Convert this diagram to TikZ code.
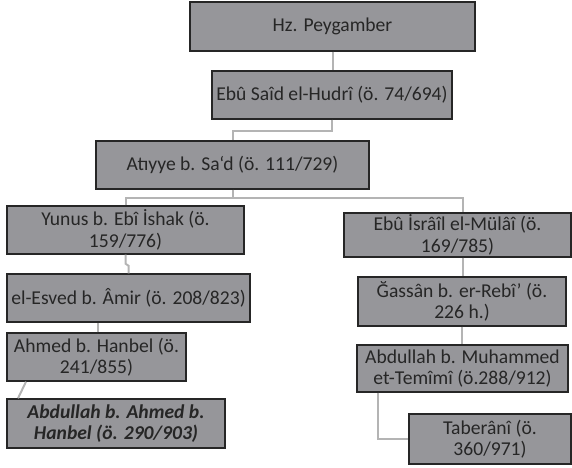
\documentclass[tikz,border=0pt]{standalone}
\usepackage{fontspec}
\setmainfont{Carlito}
\usetikzlibrary{positioning}
\definecolor{boxgray}{RGB}{150,150,154}
\definecolor{linegray}{RGB}{180,180,180}
\definecolor{textgray}{RGB}{38,38,38}

\begin{document}
\begin{tikzpicture}[x=1pt,y=-1pt,every node/.style={font=\fontsize{19.6}{21.5}\selectfont}]
	
	\tikzstyle{person}=[rectangle,draw=black!85,line width=1.4pt,fill=boxgray,text=textgray,align=center,inner sep=0pt]
	\tikzstyle{link}=[draw=linegray,line width=2pt]
	
	\useasboundingbox (0,0) rectangle (572,467);
	
	% main chain
	\node [person,minimum width=285,minimum height=49] at (332.5,26.5) (hz) {Hz. Peygamber};
	\node [person,minimum width=240,minimum height=48] at (332,95) (ebu) {Ebû Saîd el-Hudrî (ö. 74/694)};
	\node [person,minimum width=273,minimum height=48] at (232.5,165) (atiyye) {Atıyye b. Sa‘d (ö. 111/729)};
	
	% left branch
	\node [person,minimum width=237,minimum height=48] at (125.5,230) (yunus) {Yunus b. Ebî İshak (ö.\\159/776)};
	\node [person,minimum width=243,minimum height=48] at (128.5,298) (esved) {el-Esved b. Âmir (ö. 208/823)};
	\node [person,minimum width=179,minimum height=48] at (96.5,357) (ahmed) {Ahmed b. Hanbel (ö.\\241/855)};
	\node [person,minimum width=218,minimum height=49,font=\fontsize{19.6}{21.5}\selectfont\bfseries\itshape] at (116,423.5) (abdullah) {Abdullah b. Ahmed b.\\Hanbel (ö. 290/903)};
	
	% right branch
	\node [person,minimum width=227,minimum height=44] at (457.5,235) (israil) {Ebû İsrâîl el-Mülâî (ö.\\169/785)};
	\node [person,minimum width=208,minimum height=49] at (462,301.5) (gassan) {Ğassân b. er-Rebî’ (ö.\\226 h.)};
	\node [person,minimum width=211,minimum height=47] at (462.5,368.5) (temimi) {Abdullah b. Muhammed\\et-Temîmî (ö.288/912)};
	\node [person,minimum width=162,minimum height=50] at (490,439) (taberani) {Taberânî (ö.\\360/971)};
	
	\draw[link] (hz.south) -- (hz.south |- ebu.north);
	\draw[link] (ebu.south) -- ++(0,11) -| (atiyye.north);
	\draw[link] (atiyye.south) -- ++(0,8) coordinate (fork);
	\draw[link] (yunus.north) |- (fork) -| ([xshift=5.5]israil.north);
	\draw[link] (yunus.south) -- ++(0,9) -- ++(3,2) -- (esved.north);
	\draw[link] ([xshift=1.5]ahmed.north) -- ([xshift=1.5]ahmed.north |- esved.south);
	\draw[link] ([xshift=-70.5]ahmed.south) -- ([xshift=-98]abdullah.north);
	\draw[link] ([xshift=5.5]israil.south) -- ([xshift=1]gassan.north);
	\draw[link] (gassan.south) -- (gassan.south |- temimi.north);
	\draw[link] ([xshift=-84.5]temimi.south) |- (taberani.west);
	
\end{tikzpicture}
\end{document}
